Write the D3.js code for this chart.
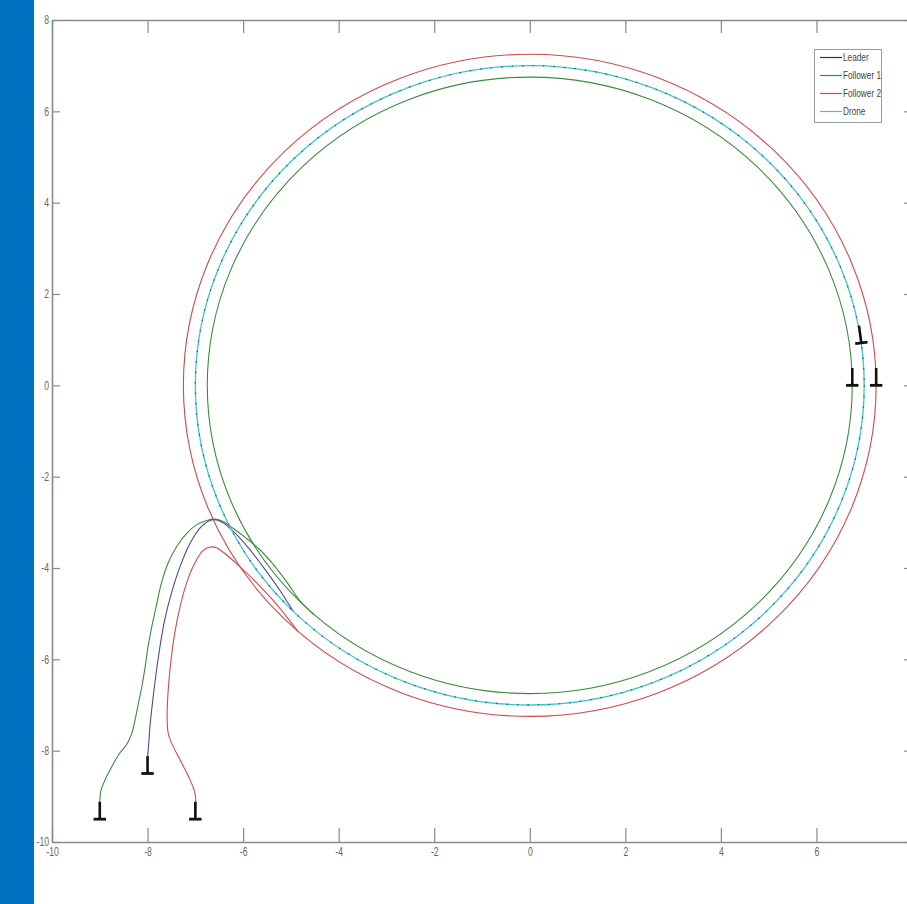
<!DOCTYPE html>
<html>
<head>
<meta charset="utf-8">
<script src="https://cdn.jsdelivr.net/npm/d3@7"></script>
<style>
  html, body { margin: 0; padding: 0; background: #fff; }
  svg { display: block; }
  .tick text { font-family: "Liberation Sans", Arial, sans-serif; font-size: 12px; fill: #666; }
</style>
</head>
<body>
<svg id="chart" width="907" height="904"></svg>
<script>
// ---------- data ----------
const xTicks = [-10, -8, -6, -4, -2, 0, 2, 4, 6];
const yTicks = [-10, -8, -6, -4, -2, 0, 2, 4, 6, 8];

const seriesNames = ["Leader", "Follower 1", "Follower 2", "Drone"];
const seriesColors = ["#2a2a7a", "#3d8b3d", "#d04a4a", "#3cc8c8"];

// radius of the circular orbit of each series (centre at 0,0)
const orbitRadius = [7.0, 6.75, 7.25, 7.0];

// approach paths (x, y)
const leaderApproach = [
  [-8.0, -8.5], [-8.0, -8.16], [-7.98, -7.91], [-7.95, -7.47], [-7.89, -6.89],
  [-7.82, -6.30], [-7.74, -5.72], [-7.64, -5.13], [-7.50, -4.55], [-7.32, -3.97],
  [-7.11, -3.46], [-6.87, -3.09], [-6.66, -2.95], [-6.49, -2.97], [-6.31, -3.10],
  [-6.10, -3.31], [-5.85, -3.61], [-5.55, -4.02], [-5.25, -4.46], [-4.95, -4.95]
];
const follower1Approach = [
  [-9.0, -9.5], [-9.0, -9.15], [-8.98, -8.89], [-8.89, -8.64], [-8.75, -8.35],
  [-8.58, -8.05], [-8.44, -7.87], [-8.33, -7.62], [-8.26, -7.32], [-8.19, -6.96],
  [-8.12, -6.60], [-8.05, -6.16], [-7.99, -5.72], [-7.91, -5.28], [-7.82, -4.84],
  [-7.71, -4.33], [-7.57, -3.89], [-7.39, -3.53], [-7.18, -3.24], [-6.97, -3.05],
  [-6.76, -2.96], [-6.59, -2.93], [-6.42, -2.98], [-6.21, -3.13], [-5.93, -3.35],
  [-5.65, -3.60], [-5.37, -3.92], [-5.09, -4.30], [-4.80, -4.73], [-4.52, -5.02]
];
const follower2Approach = [
  [-7.0, -9.5], [-6.99, -9.14], [-7.01, -8.92], [-7.11, -8.64], [-7.32, -8.20],
  [-7.50, -7.83], [-7.57, -7.61], [-7.59, -7.26], [-7.58, -6.88], [-7.55, -6.44],
  [-7.50, -5.94], [-7.43, -5.42], [-7.32, -4.85], [-7.18, -4.32], [-7.01, -3.89],
  [-6.84, -3.62], [-6.69, -3.54], [-6.55, -3.56], [-6.35, -3.71], [-6.07, -3.97],
  [-5.72, -4.32], [-5.38, -4.70], [-5.08, -5.08], [-4.85, -5.39]
];

// robot markers: x, y, heading (degrees)
const markerX = [-9.0, -8.0, -7.0, 6.75, 7.25, 6.94];
const markerY = [-9.5, -8.5, -9.5, 0.0, 0.0, 0.93];
const markerHeading = [90, 90, 90, 90, 90, 97.6];

// ---------- drawing ----------
const svg = d3.select("#chart");
const W = 907, H = 904;

// blue side band
svg.append("rect").attr("x", 0).attr("y", 0).attr("width", 34).attr("height", H).attr("fill", "#0070c0");

const x = d3.scaleLinear().domain([-10, 8]).range([52, 912]);
const y = d3.scaleLinear().domain([-10, 8]).range([842, 20]);

const plot = svg.append("g");

const line = d3.line().x(d => x(d[0])).y(d => y(d[1])).curve(d3.curveCatmullRom.alpha(0.5));

function orbit(i, extra) {
  const e = plot.append("ellipse")
    .attr("cx", x(0)).attr("cy", y(0))
    .attr("rx", x(orbitRadius[i]) - x(0))
    .attr("ry", y(0) - y(orbitRadius[i]))
    .attr("fill", "none")
    .attr("stroke", seriesColors[i])
    .attr("stroke-width", 1.1);
  if (extra) extra(e);
  return e;
}

// Follower 2 (red)
orbit(2);
plot.append("path").datum(follower2Approach).attr("d", line)
  .attr("fill", "none").attr("stroke", seriesColors[2]).attr("stroke-width", 1.1);
// Follower 1 (green)
orbit(1);
plot.append("path").datum(follower1Approach).attr("d", line)
  .attr("fill", "none").attr("stroke", seriesColors[1]).attr("stroke-width", 1.1);
// Leader approach (solid)
plot.append("path").datum(leaderApproach).attr("d", line)
  .attr("fill", "none").attr("stroke", "#4a4a9a").attr("stroke-width", 1.1);
// Drone (cyan) orbit
orbit(3, e => e.attr("stroke-width", 1.3));
// Leader orbit shows through as dark specks
orbit(0, e => e.attr("stroke-dasharray", "1.5,9").attr("stroke-width", 1.3).attr("opacity", 0.75));

// markers
markerX.forEach((mx, i) => {
  const h = markerHeading[i] * Math.PI / 180;
  const L = 0.38, Wd = 0.13;
  const sx = mx + L * Math.cos(h), sy = markerY[i] + L * Math.sin(h);
  const b1x = mx + Wd * Math.sin(h), b1y = markerY[i] - Wd * Math.cos(h);
  const b2x = mx - Wd * Math.sin(h), b2y = markerY[i] + Wd * Math.cos(h);
  plot.append("line").attr("x1", x(mx)).attr("y1", y(markerY[i])).attr("x2", x(sx)).attr("y2", y(sy))
    .attr("stroke", "#111").attr("stroke-width", 2.6);
  plot.append("line").attr("x1", x(b1x)).attr("y1", y(b1y)).attr("x2", x(b2x)).attr("y2", y(b2y))
    .attr("stroke", "#111").attr("stroke-width", 2.8);
});

// axes
const fmt = d => String(d);
function styleAxis(g) {
  g.select(".domain").attr("stroke", "#8a8a8a").attr("stroke-width", 1.6);
  g.selectAll(".tick line").attr("stroke", "#8a8a8a").attr("stroke-width", 1.2);
}
const sx = 0.72;
svg.append("g").attr("transform", `translate(0,${y(-10)})`)
  .call(d3.axisBottom(x).tickValues(xTicks).tickFormat(fmt).tickSizeInner(-14).tickSizeOuter(0).tickPadding(5))
  .call(styleAxis)
  .call(g => g.selectAll(".tick text").attr("transform", `scale(${sx},1)`));
svg.append("g").attr("transform", `translate(${x(-10)},0)`)
  .call(d3.axisLeft(y).tickValues(yTicks).tickFormat(fmt).tickSizeInner(-8).tickSizeOuter(0).tickPadding(3))
  .call(styleAxis)
  .call(g => g.selectAll(".tick text").attr("x", -3 / sx).attr("transform", `scale(${sx},1)`));
svg.append("g").attr("transform", `translate(0,${y(8)})`)
  .call(d3.axisTop(x).tickValues(xTicks).tickSizeInner(-13).tickSizeOuter(0).tickFormat(""))
  .call(styleAxis);
svg.append("g").attr("transform", `translate(${x(8)},0)`)
  .call(d3.axisRight(y).tickValues(yTicks).tickSizeInner(-8).tickSizeOuter(0).tickFormat(""))
  .call(styleAxis);

// legend
const leg = svg.append("g");
leg.append("rect").attr("x", 814.5).attr("y", 49.5).attr("width", 67).attr("height", 73)
  .attr("fill", "#fff").attr("stroke", "#9a9a9a").attr("stroke-width", 1);
seriesNames.forEach((name, i) => {
  const yy = 57.5 + i * 18;
  leg.append("line").attr("x1", 820).attr("x2", 842).attr("y1", yy).attr("y2", yy)
    .attr("stroke", seriesColors[i]).attr("stroke-width", 1.2);
  leg.append("text")
    .attr("transform", `translate(843,${yy}) scale(0.75,1)`)
    .attr("dy", "0.35em")
    .attr("font-family", "\"Liberation Sans\", Arial, sans-serif")
    .attr("font-size", 11).attr("fill", "#444").text(name);
});
</script>
</body>
</html>
